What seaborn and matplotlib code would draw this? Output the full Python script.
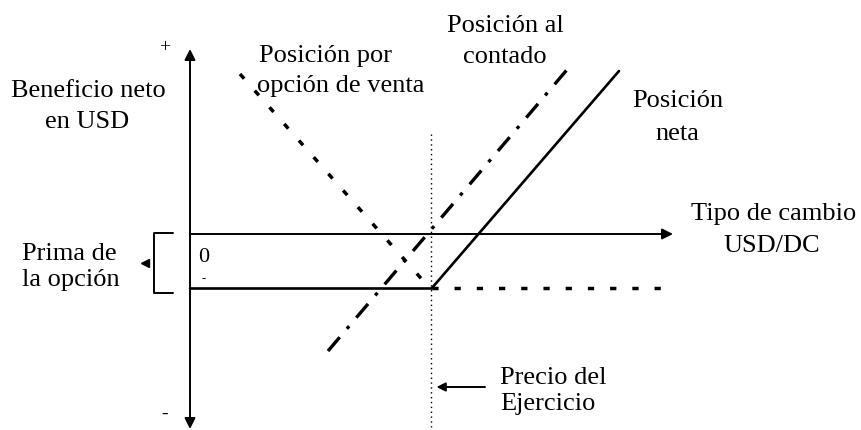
import matplotlib
matplotlib.use("Agg")
import matplotlib.pyplot as plt
import seaborn as sns

sns.set_theme(style="white")
plt.rcParams["font.family"] = ["Liberation Serif", "DejaVu Serif"]
plt.rcParams["lines.scale_dashes"] = False

# --- diagram data (exchange rate on x, net profit in USD on y) ---
strike = 24.15
rate_axis_end = 48.3
profit_axis = [18.5, -19.5]

put_x = [5.0, 24.0, 47.3]
put_y = [16.0, -5.45, -5.45]
spot_x = [13.8, 38.1]
spot_y = [-11.7, 16.9]
net_x = [0.0, 24.15, 42.9]
net_y = [-5.45, -5.45, 16.3]
strike_y = [10.0, -19.3]
bracket_x = [-1.7, -3.6, -3.6, -1.7]
bracket_y = [0.1, 0.1, -5.9, -5.9]

W, H = 862, 431
fig = plt.figure(figsize=(W / 100, H / 100), dpi=100)
ax = fig.add_axes([0, 0, 1, 1])
ax.set_xlim(-19.0, 67.2)
ax.set_ylim(-19.6, 23.5)
ax.axis("off")

k = "black"
arrow = dict(arrowstyle="-|>", color=k, lw=1.4, mutation_scale=16,
             shrinkA=0, shrinkB=0)


def line(x, y, **kw):
    sns.lineplot(x=x, y=y, sort=False, estimator=None, color=k, ax=ax, **kw)


# axes of the diagram
ax.annotate("", xy=(0, profit_axis[0]), xytext=(0, profit_axis[1]),
            arrowprops=dict(arrow, arrowstyle="<|-|>"))
ax.annotate("", xy=(rate_axis_end, 0), xytext=(0, 0), arrowprops=arrow)

# positions
line(net_x, net_y, lw=1.9)
line(spot_x, spot_y, lw=2.4, linestyle=(0, (13, 8, 2.5, 8)))
line(put_x, put_y, lw=2.5, linestyle=(0, (4.5, 11.5)))
line([strike, strike], strike_y, lw=1.0, linestyle=(0, (1, 2.5)))

# premium bracket
line(bracket_x, bracket_y, lw=1.4)
ax.plot([-4.5], [(bracket_y[0] + bracket_y[2]) / 2], marker="<", color=k,
        markersize=6)

# strike price arrow
ax.annotate("", xy=(strike + 0.5, -15.3), xytext=(29.5, -15.3),
            arrowprops=dict(arrow, mutation_scale=13))


def label(txt, px, py, ha="center", size=19, va="baseline"):
    fig.text(px / W, 1 - py / H, txt, ha=ha, va=va, fontsize=size, color=k)


label("Beneficio neto", 88, 97)
label("en USD", 87, 128)
label("Posición por", 259, 62, ha="left")
label("opción de venta", 257, 92, ha="left")
label("Posición al", 505, 32)
label("contado", 505, 63)
label("Posición", 678, 107)
label("neta", 677, 140)
label("Tipo de cambio", 774, 220)
label("USD/DC", 772, 252)
label("Prima de", 22, 260, ha="left")
label("la opción", 22, 286, ha="left")
label("Precio del", 500, 384, ha="left")
label("Ejercicio", 500, 410, ha="left")
label("+", 165, 48, size=14, va="center")
label("-", 165, 414, size=14, va="center")
label("0", 198, 262, ha="left", size=16)
label("-", 204, 279, size=9, va="center")

fig.savefig("out.png", dpi=100)
